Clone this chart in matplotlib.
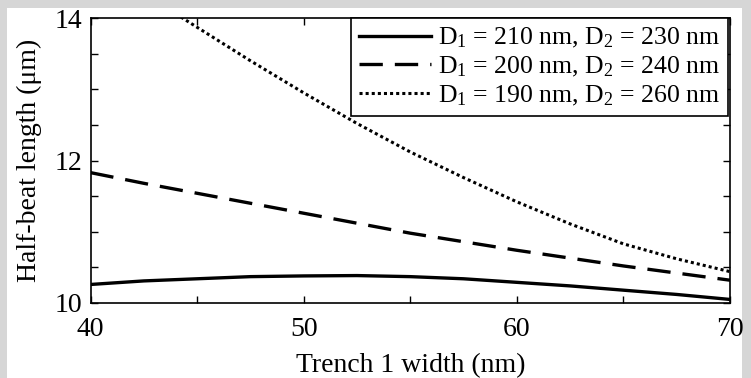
import matplotlib
matplotlib.use("Agg")
import matplotlib.pyplot as plt
from matplotlib.ticker import MultipleLocator
from matplotlib.patches import Rectangle

plt.rcParams['font.family'] = ['Liberation Serif', 'DejaVu Serif']
plt.rcParams['mathtext.fontset'] = 'custom'
plt.rcParams['mathtext.rm'] = 'Liberation Serif'
plt.rcParams['mathtext.it'] = 'Liberation Serif:italic'

# Data
x_solid = [40, 42.5, 45, 47.5, 50, 52.5, 55, 57.5, 60, 62.5, 65, 67.5, 70]
y_solid = [10.26, 10.31, 10.34, 10.37, 10.38, 10.385, 10.37, 10.34, 10.29, 10.24, 10.18, 10.12, 10.05]

x_dash = [40, 42.5, 45, 47.5, 50, 52.5, 55, 57.5, 60, 62.5, 65, 67.5, 70]
y_dash = [11.83, 11.68, 11.54, 11.40, 11.26, 11.12, 10.98, 10.86, 10.74, 10.63, 10.52, 10.42, 10.32]

x_dot = [44, 45, 47.5, 50, 52.5, 55, 57.5, 60, 62.5, 65, 67.5, 70]
y_dot = [14.06, 13.87, 13.40, 12.95, 12.52, 12.12, 11.76, 11.42, 11.11, 10.83, 10.62, 10.44]

labels = ['D$_1$ = 210 nm, D$_2$ = 230 nm',
          'D$_1$ = 200 nm, D$_2$ = 240 nm',
          'D$_1$ = 190 nm, D$_2$ = 260 nm']

W, H = 751, 378
fig = plt.figure(figsize=(W / 100, H / 100), dpi=100)
fig.patch.set_facecolor('#d6d6d6')
fig.patches.append(Rectangle((7 / W, 0), (742 - 7) / W, (H - 8) / H,
                             transform=fig.transFigure, facecolor='white',
                             edgecolor='none', zorder=-10))

left, right, top, bottom = 90.5, 730, 18, 303
ax = fig.add_axes([left / W, 1 - bottom / H, (right - left) / W, (bottom - top) / H])
ax.set_zorder(5)

lw = 2.4
ax.plot(x_solid, y_solid, color='black', lw=lw, linestyle='-', label=labels[0])
ax.plot(x_dash, y_dash, color='black', lw=lw, linestyle=(0, (7, 3.6)), label=labels[1])
ax.plot(x_dot, y_dot, color='black', lw=2.2, linestyle=(0, (1, 1.0)), label=labels[2])

ax.set_xlim(40, 70)
ax.set_ylim(10, 14)
ax.xaxis.set_major_locator(MultipleLocator(10))
ax.xaxis.set_minor_locator(MultipleLocator(5))
ax.yaxis.set_major_locator(MultipleLocator(2))
ax.yaxis.set_minor_locator(MultipleLocator(0.5))
ax.tick_params(which='both', direction='in', top=True, right=True,
               length=5, width=1.0, labelsize=20)
ax.tick_params(axis='x', which='both', pad=10)
ax.tick_params(axis='y', which='both', pad=6)
for s in ax.spines.values():
    s.set_linewidth(1.2)

ax.set_xlabel('Trench 1 width (nm)', fontsize=20, labelpad=8)
ax.set_ylabel('Half-beat length (\u03bcm)', fontsize=20, labelpad=9)

leg = ax.legend(loc='upper right', fontsize=18.5, frameon=True, fancybox=False,
                edgecolor='black', framealpha=1, borderaxespad=0.0,
                bbox_to_anchor=(0.997, 1.0),
                handlelength=2.8, handletextpad=0.25, labelspacing=0.17,
                borderpad=0.32)
leg.get_frame().set_linewidth(1.2)

fig.savefig('out.png', dpi=100, facecolor=fig.get_facecolor())
